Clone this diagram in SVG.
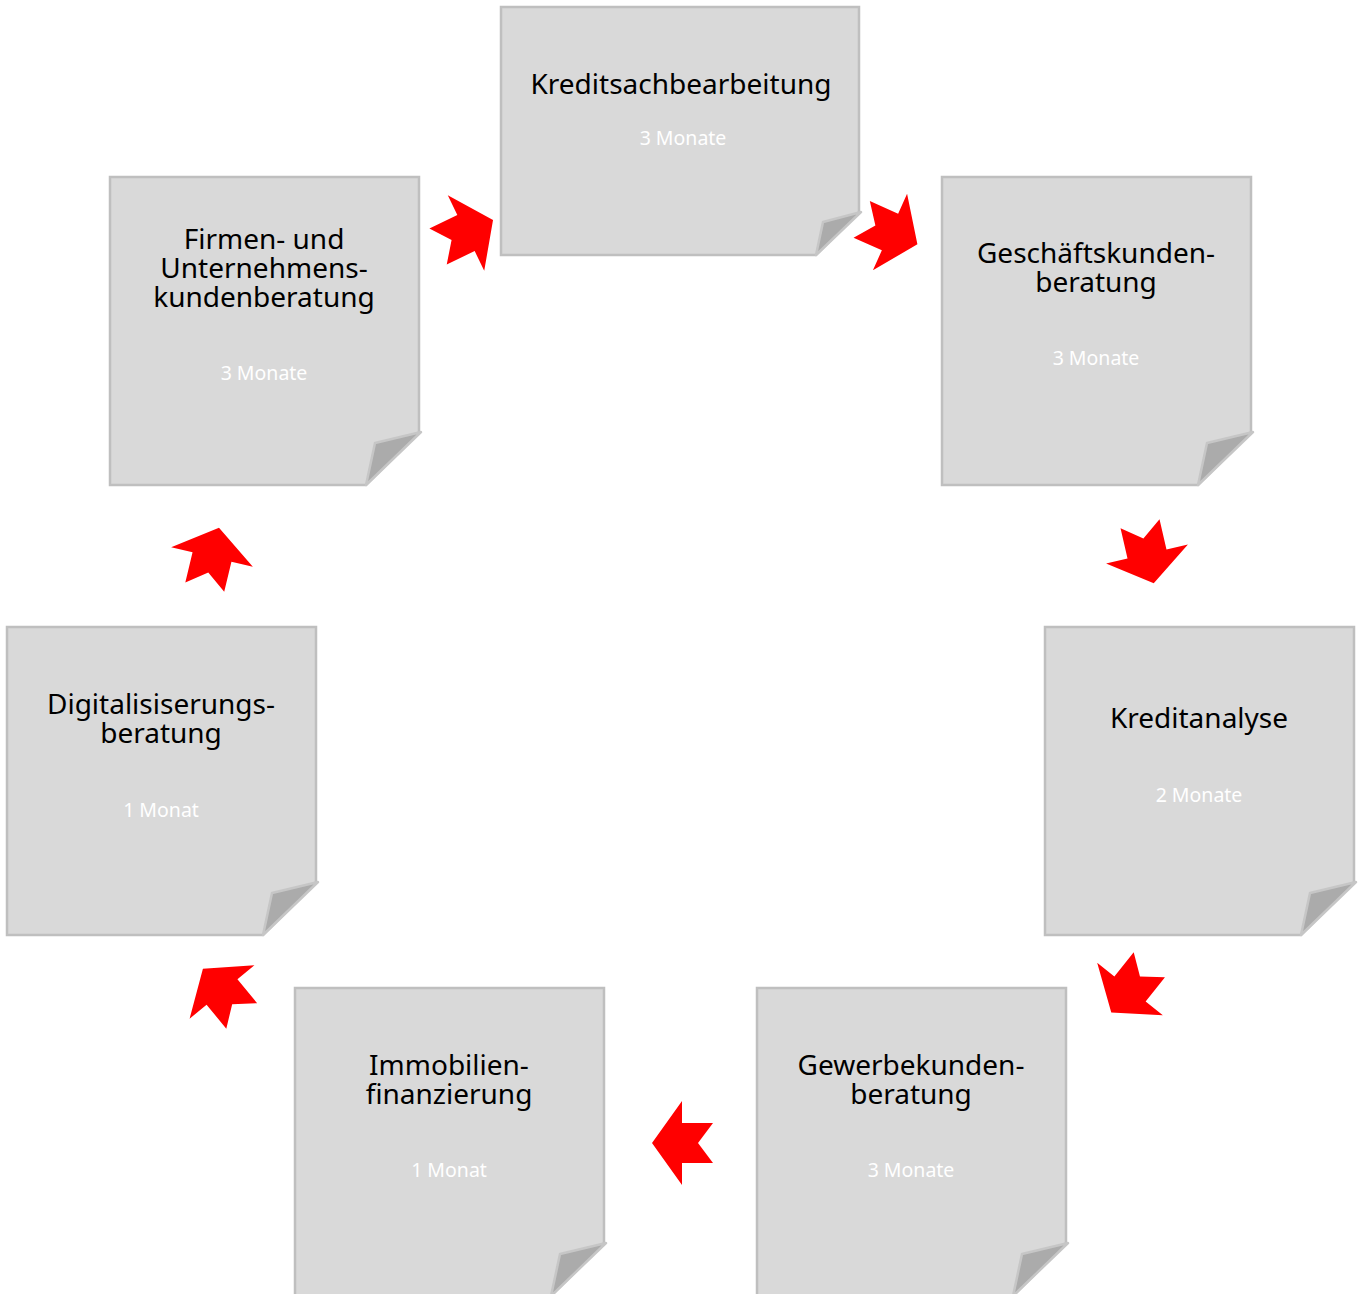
<svg xmlns="http://www.w3.org/2000/svg" width="1363" height="1294" viewBox="0 0 1363 1294">
<style>
.page{fill:#d9d9d9;stroke:#bfbfbf;stroke-width:2.5}
.curl{fill:#ababab;stroke:#c6c6c6;stroke-width:2.5;stroke-linejoin:round}
.t{font-family:"Noto Sans","DejaVu Sans",sans-serif;font-size:28px;fill:#000;text-anchor:middle}
.s{font-family:"Noto Sans","DejaVu Sans",sans-serif;font-size:19.5px;fill:#ffffff;text-anchor:middle}
.arr{fill:#ff0000}
</style>
<defs>
<polygon id="arrow" points="30,0 0,-42 0,-20 -31,-20 -16,0 -31,20 0,20 0,42"/>
</defs>
<g id="connectors">
<use href="#arrow" class="arr" transform="translate(466,233) rotate(-25.7)"/>
<use href="#arrow" class="arr" transform="translate(890,232) rotate(24)"/>
<use href="#arrow" class="arr" transform="translate(1147,554) rotate(77)"/>
<use href="#arrow" class="arr" transform="translate(1130,989) rotate(128.6)"/>
<use href="#arrow" class="arr" transform="translate(682,1143) rotate(180)"/>
<use href="#arrow" class="arr" transform="translate(222,992) rotate(230.5)"/>
<use href="#arrow" class="arr" transform="translate(212,557) rotate(-76.5)"/>
</g>
<g id="node-kreditsachbearbeitung">
<path class="page" d="M501,7 H859 V212 L816,255 H501 Z"/>
<path class="curl" d="M861,212 L823,222 L816,255 Z"/>
<text class="t" x="681" y="94">Kreditsachbearbeitung</text>
<text class="s" x="683" y="145">3 Monate</text>
</g>
<g id="node-geschaeftskundenberatung">
<path class="page" d="M942,177 H1251 V432 L1198,485 H942 Z"/>
<path class="curl" d="M1253,432 L1207,443 L1198,485 Z"/>
<text class="t" x="1096" y="263">Geschäftskunden-</text>
<text class="t" x="1096" y="292">beratung</text>
<text class="s" x="1096" y="365">3 Monate</text>
</g>
<g id="node-kreditanalyse">
<path class="page" d="M1045,627 H1354 V882 L1301,935 H1045 Z"/>
<path class="curl" d="M1356,882 L1310,893 L1301,935 Z"/>
<text class="t" x="1199" y="728">Kreditanalyse</text>
<text class="s" x="1199" y="802">2 Monate</text>
</g>
<g id="node-gewerbekundenberatung">
<path class="page" d="M757,988 H1066 V1243 L1013,1296 H757 Z"/>
<path class="curl" d="M1068,1243 L1022,1254 L1013,1296 Z"/>
<text class="t" x="911" y="1075">Gewerbekunden-</text>
<text class="t" x="911" y="1104">beratung</text>
<text class="s" x="911" y="1177">3 Monate</text>
</g>
<g id="node-immobilienfinanzierung">
<path class="page" d="M295,988 H604 V1243 L551,1296 H295 Z"/>
<path class="curl" d="M606,1243 L560,1254 L551,1296 Z"/>
<text class="t" x="449" y="1075">Immobilien-</text>
<text class="t" x="449" y="1104">finanzierung</text>
<text class="s" x="449" y="1177">1 Monat</text>
</g>
<g id="node-digitalisierungsberatung">
<path class="page" d="M7,627 H316 V882 L263,935 H7 Z"/>
<path class="curl" d="M318,882 L272,893 L263,935 Z"/>
<text class="t" x="161" y="714">Digitalisiserungs-</text>
<text class="t" x="161" y="743">beratung</text>
<text class="s" x="161" y="817">1 Monat</text>
</g>
<g id="node-firmenkundenberatung">
<path class="page" d="M110,177 H419 V432 L366,485 H110 Z"/>
<path class="curl" d="M421,432 L375,443 L366,485 Z"/>
<text class="t" x="264" y="249">Firmen- und</text>
<text class="t" x="264" y="278">Unternehmens-</text>
<text class="t" x="264" y="307">kundenberatung</text>
<text class="s" x="264" y="380">3 Monate</text>
</g>
</svg>
